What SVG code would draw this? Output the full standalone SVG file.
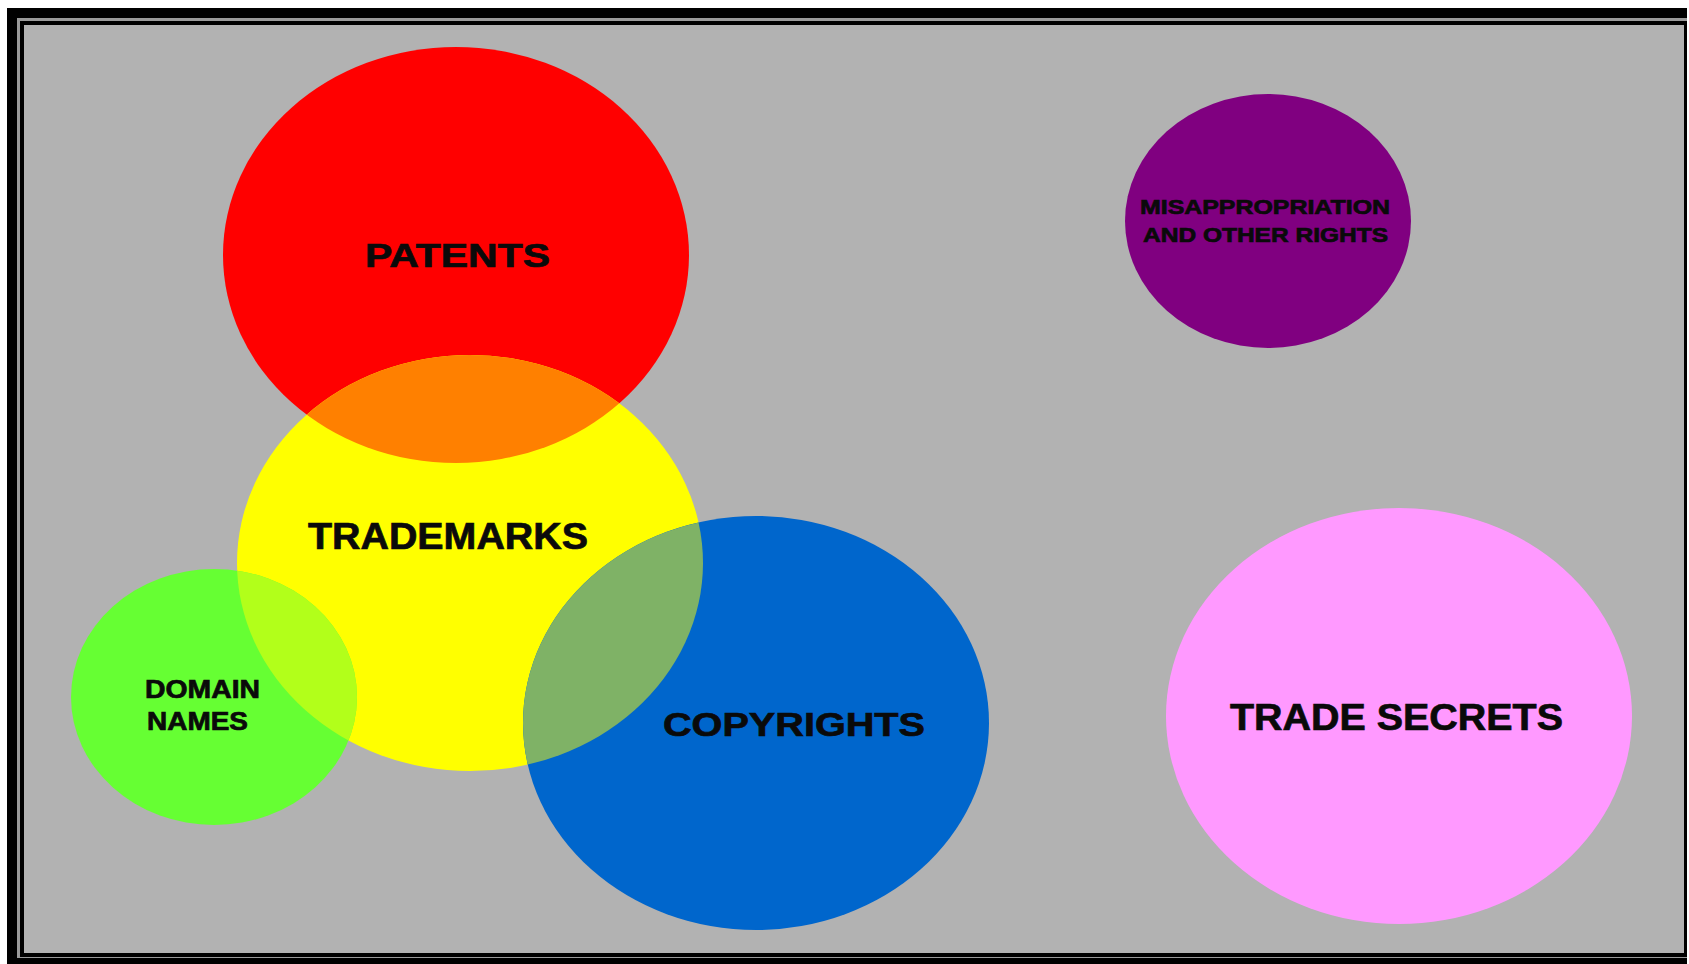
<svg xmlns="http://www.w3.org/2000/svg" width="1689" height="964" viewBox="0 0 1689 964">
<style>
text{font-family:"Liberation Sans",Arial,sans-serif;font-weight:bold;fill:#0a0a0a;stroke:#0a0a0a;stroke-width:0.7;}
</style>
<defs>
<clipPath id="clipYellow"><ellipse cx="470" cy="563" rx="233" ry="208"/></clipPath>
</defs>
<rect x="0" y="0" width="1689" height="964" fill="#ffffff"/>
<rect x="7" y="8" width="1680" height="970" fill="#000000"/>
<rect x="17" y="18" width="1670" height="940" fill="#9a9a9a"/>
<rect x="20" y="21" width="1667" height="936" fill="#000000"/>
<rect x="24" y="25" width="1660" height="928" fill="#b2b2b2"/>

<g id="node-patents">
<ellipse cx="456" cy="255" rx="233" ry="208" fill="#ff0000"/>
</g>
<g id="node-trademarks">
<ellipse cx="470" cy="563" rx="233" ry="208" fill="#ffff00"/>
<ellipse cx="456" cy="255" rx="233" ry="208" fill="#ff8000" clip-path="url(#clipYellow)"/>
</g>
<g id="node-domain-names">
<ellipse cx="214" cy="697" rx="143" ry="128" fill="#66ff33"/>
<ellipse cx="214" cy="697" rx="143" ry="128" fill="#b2ff1a" clip-path="url(#clipYellow)"/>
</g>
<g id="node-copyrights">
<ellipse cx="756" cy="723" rx="233" ry="207" fill="#0066cc"/>
<ellipse cx="756" cy="723" rx="233" ry="207" fill="#7fb266" clip-path="url(#clipYellow)"/>
</g>
<g id="node-trade-secrets">
<ellipse cx="1399" cy="716" rx="233" ry="208" fill="#ff99ff"/>
</g>
<g id="node-misappropriation">
<ellipse cx="1268" cy="221" rx="143" ry="127" fill="#800080"/>
</g>

<g id="labels">
<text x="365" y="267" font-size="33" textLength="185" lengthAdjust="spacingAndGlyphs">PATENTS</text>
<text x="308" y="549" font-size="36" textLength="280" lengthAdjust="spacingAndGlyphs">TRADEMARKS</text>
<text x="663" y="736" font-size="34" textLength="262" lengthAdjust="spacingAndGlyphs">COPYRIGHTS</text>
<text x="1230" y="730" font-size="37" textLength="333" lengthAdjust="spacingAndGlyphs">TRADE SECRETS</text>
<text x="145" y="698" font-size="25" textLength="115" lengthAdjust="spacingAndGlyphs">DOMAIN</text>
<text x="147" y="730" font-size="25" textLength="101" lengthAdjust="spacingAndGlyphs">NAMES</text>
<text x="1140" y="214" font-size="20" textLength="250" lengthAdjust="spacingAndGlyphs">MISAPPROPRIATION</text>
<text x="1143" y="242" font-size="20" textLength="245" lengthAdjust="spacingAndGlyphs">AND OTHER RIGHTS</text>
</g>
<g id="connectors"></g>
</svg>
